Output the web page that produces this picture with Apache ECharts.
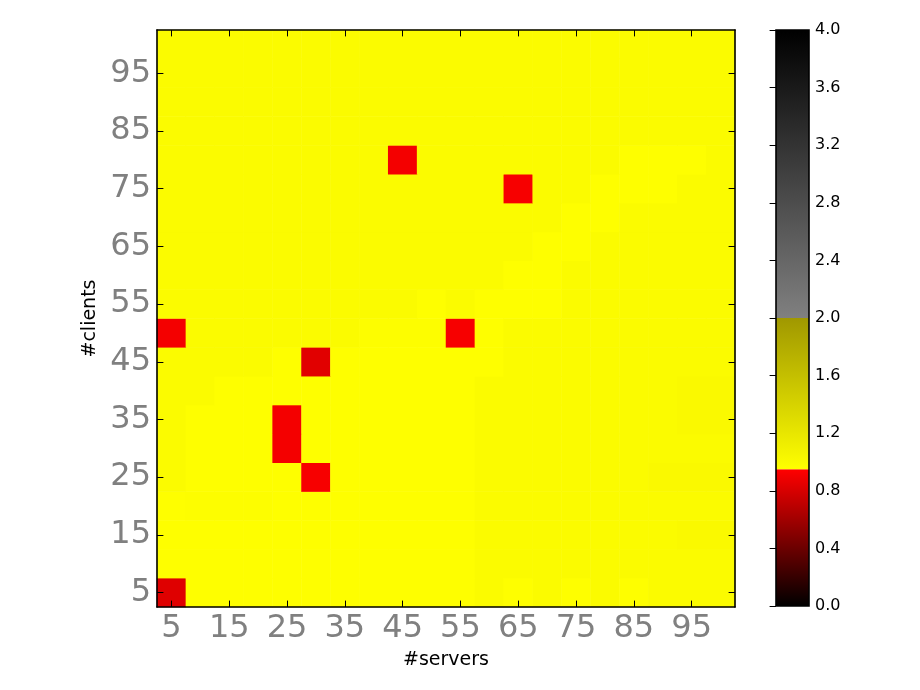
<!DOCTYPE html>
<html><head><meta charset="utf-8">
<script src="https://cdn.jsdelivr.net/npm/echarts@6/dist/echarts.min.js"></script>
<style>html,body{margin:0;padding:0;background:#fff}#c{width:920px;height:690px}</style>
</head><body><div id="c"></div>
<script>
// ---- data ----
const servers = [5,10,15,20,25,30,35,40,45,50,55,60,65,70,75,80,85,90,95,100];
const clients = [5,10,15,20,25,30,35,40,45,50,55,60,65,70,75,80,85,90,95,100];
const xTickLabels = ['5','15','25','35','45','55','65','75','85','95'];
const yTickLabels = ['5','15','25','35','45','55','65','75','85','95'];
const colorbarMin = 0, colorbarMax = 4, colorbarStep = 0.4;
// values[row] : row = clients index (5 at bottom), column = servers index
const values = [
/* 5  */ [0.83,0.96,0.96,0.96,0.96,0.96,0.96,0.96,0.96,0.96,0.96,0.99,0.96,0.99,0.96,0.99,0.96,0.99,0.99,0.99],
/* 10 */ [0.96,0.96,0.96,0.96,0.96,0.96,0.96,0.96,0.96,0.96,0.96,0.99,0.99,0.99,0.99,0.99,0.99,0.99,0.99,0.99],
/* 15 */ [0.96,0.96,0.96,0.96,0.96,0.96,0.96,0.96,0.96,0.96,0.96,0.99,0.99,0.99,0.99,0.99,0.99,0.99,1.01,1.01],
/* 20 */ [0.96,0.975,0.975,0.975,0.96,0.96,0.96,0.96,0.96,0.96,0.96,0.99,0.99,0.99,0.99,0.99,0.99,0.99,0.99,0.99],
/* 25 */ [0.99,0.96,0.96,0.96,0.96,0.92,0.96,0.96,0.96,0.96,0.96,0.99,0.99,0.99,0.99,0.99,0.99,1.01,1.01,1.01],
/* 30 */ [0.99,0.96,0.96,0.96,0.91,0.96,0.96,0.96,0.96,0.96,0.96,0.99,0.99,0.99,0.99,0.99,0.99,0.99,0.99,0.99],
/* 35 */ [0.99,0.96,0.96,0.96,0.91,0.96,0.96,0.96,0.96,0.96,0.96,0.99,0.99,0.99,0.99,0.99,0.99,0.99,1.01,1.01],
/* 40 */ [0.99,0.99,0.96,0.96,0.96,0.96,0.96,0.96,0.96,0.96,0.96,0.99,0.99,0.99,0.99,0.99,0.99,0.99,1.01,1.01],
/* 45 */ [0.99,0.99,0.99,0.99,0.96,0.84,0.96,0.96,0.96,0.96,0.96,0.96,0.99,0.99,0.99,0.99,0.99,0.99,0.99,0.99],
/* 50 */ [0.91,0.99,0.99,0.99,0.99,0.99,0.99,0.97,0.97,0.97,0.92,0.96,0.99,0.99,0.99,0.99,0.99,0.99,0.99,0.99],
/* 55 */ [0.99,0.99,0.99,0.99,0.99,0.99,0.99,0.99,0.99,0.96,0.99,0.96,0.96,0.96,0.99,0.99,0.99,0.99,0.99,0.99],
/* 60 */ [0.99,0.99,0.99,0.99,0.99,0.99,0.99,0.99,0.99,0.99,0.99,0.99,0.96,0.96,0.99,0.99,0.99,0.99,0.99,0.99],
/* 65 */ [0.99,0.99,0.99,0.99,0.99,0.99,0.99,0.99,0.99,0.99,0.99,0.99,0.99,0.96,0.96,0.99,0.99,0.99,0.99,0.99],
/* 70 */ [0.99,0.99,0.99,0.99,0.99,0.99,0.99,0.99,0.99,0.99,0.99,0.99,0.99,0.99,0.96,0.96,0.99,0.99,0.99,0.99],
/* 75 */ [0.99,0.99,0.99,0.99,0.99,0.99,0.99,0.99,0.99,0.99,0.99,0.99,0.92,0.99,0.99,0.96,0.96,0.96,0.99,0.99],
/* 80 */ [0.99,0.99,0.99,0.99,0.99,0.99,0.99,0.99,0.91,0.99,0.99,0.99,0.99,0.99,0.99,0.99,0.96,0.96,0.96,0.99],
/* 85 */ [0.99,0.99,0.99,0.99,0.99,0.99,0.99,0.99,0.99,0.99,0.99,0.99,0.99,0.99,0.99,0.99,0.99,0.99,0.99,0.99],
/* 90 */ [0.99,0.99,0.99,0.99,0.99,0.99,0.99,0.99,0.99,0.99,0.99,0.99,0.99,0.99,0.99,0.99,0.99,0.99,0.99,0.99],
/* 95 */ [0.99,0.99,0.99,0.99,0.99,0.99,0.99,0.99,0.99,0.99,0.99,0.99,0.99,0.99,0.99,0.99,0.99,0.99,0.99,0.99],
/* 100*/ [0.99,0.99,0.99,0.99,0.99,0.99,0.99,0.99,0.99,0.99,0.99,0.99,0.99,0.99,0.99,0.99,0.99,0.99,0.99,0.99]
];

// ---- colormap (styling) ----
const BREAK_LO = 0.95, BREAK_HI = 2.0;
function cmap(v){
  let r,g,b;
  if (v < BREAK_LO) { const t = v / BREAK_LO; r = 255*t; g = 0; b = 0; }
  else if (v < BREAK_HI) { const t = (v-BREAK_LO)/(BREAK_HI-BREAK_LO); r = 255-95*t; g = 255-103*t; b = 0; }
  else { const t = (v-BREAK_HI)/(colorbarMax-BREAK_HI); r = g = b = 128*(1-t); }
  return 'rgb(' + Math.round(r) + ',' + Math.round(g) + ',' + Math.round(b) + ')';
}
const stops = [];
for (let i = 0; i <= 800; i++) stops.push(cmap(colorbarMin + (colorbarMax-colorbarMin)*i/800));
const segments = [[colorbarMin, BREAK_LO],[BREAK_LO, BREAK_HI],[BREAK_HI, colorbarMax]];

const heatData = [];
values.forEach((row, j) => row.forEach((v, i) => heatData.push([i, j, v])));

const FONT = 'DejaVu Sans';
const xInt = (idx, val) => xTickLabels.includes(String(val));
const yInt = (idx, val) => yTickLabels.includes(String(val));
const tick = (fn) => ({show:true, inside:true, length:6.4, alignWithLabel:true, interval:fn, lineStyle:{color:'#000', width:1}});
const line = {show:true, lineStyle:{color:'#000', width:1.6}};

const chart = echarts.init(document.getElementById('c'), null, {renderer:'canvas'});
chart.setOption({
  animation:false,
  backgroundColor:'#fff',
  grid:[
    {left:157, top:30, width:578, height:577},
    {left:776, top:30, width:33, height:576, show:true, borderColor:'#000', borderWidth:1.6, backgroundColor:'transparent', z:10}
  ],
  xAxis:[
    {type:'category', gridIndex:0, position:'bottom', data:servers, z:10, axisLine:line, axisTick:tick(xInt),
     axisLabel:{interval:xInt, fontSize:32, color:'#808080', fontFamily:FONT, margin:6},
     splitLine:{show:false}, name:'#servers', nameLocation:'middle', nameGap:44,
     nameTextStyle:{fontSize:19, color:'#000', fontFamily:FONT}},
    {type:'category', gridIndex:0, position:'top', data:servers, z:10, axisLine:line, axisTick:tick(xInt),
     axisLabel:{show:false}, splitLine:{show:false}},
    {type:'value', gridIndex:1, min:0, max:1, show:false}
  ],
  yAxis:[
    {type:'category', gridIndex:0, position:'left', data:clients, z:10, axisLine:line, axisTick:tick(yInt),
     axisLabel:{interval:yInt, fontSize:32, color:'#808080', fontFamily:FONT, margin:6},
     splitLine:{show:false}, name:'#clients', nameLocation:'middle', nameGap:57,
     nameTextStyle:{fontSize:19, color:'#000', fontFamily:FONT}},
    {type:'category', gridIndex:0, position:'right', data:clients, z:10, axisLine:line, axisTick:tick(yInt),
     axisLabel:{show:false}, splitLine:{show:false}},
    {type:'value', gridIndex:1, position:'right', min:colorbarMin, max:colorbarMax, interval:colorbarStep, z:10,
     axisLine:{show:false}, axisTick:{show:true, inside:true, length:6.4, lineStyle:{color:'#000', width:1}},
     axisLabel:{fontSize:16, color:'#000', fontFamily:FONT, margin:6, formatter:v=>v.toFixed(1)},
     splitLine:{show:false}}
  ],
  visualMap:{type:'continuous', show:false, min:colorbarMin, max:colorbarMax, dimension:2, seriesIndex:0,
    inRange:{color:stops}},
  series:[
    {type:'heatmap', xAxisIndex:0, yAxisIndex:0, data:heatData, itemStyle:{borderWidth:0}, emphasis:{disabled:true}, progressive:0},
    {type:'custom', xAxisIndex:2, yAxisIndex:2, data:segments, silent:true,
     renderItem:(params, api) => {
       const v0 = api.value(0), v1 = api.value(1);
       const p0 = api.coord([0, v0]), p1 = api.coord([1, v1]);
       return {type:'rect', shape:{x:p0[0], y:p1[1], width:p1[0]-p0[0], height:p0[1]-p1[1]},
         style:{fill:new echarts.graphic.LinearGradient(0,1,0,0,[{offset:0,color:cmap(v0)},{offset:1,color:cmap(v1-1e-6)}])}};
     }}
  ]
});
</script></body></html>
